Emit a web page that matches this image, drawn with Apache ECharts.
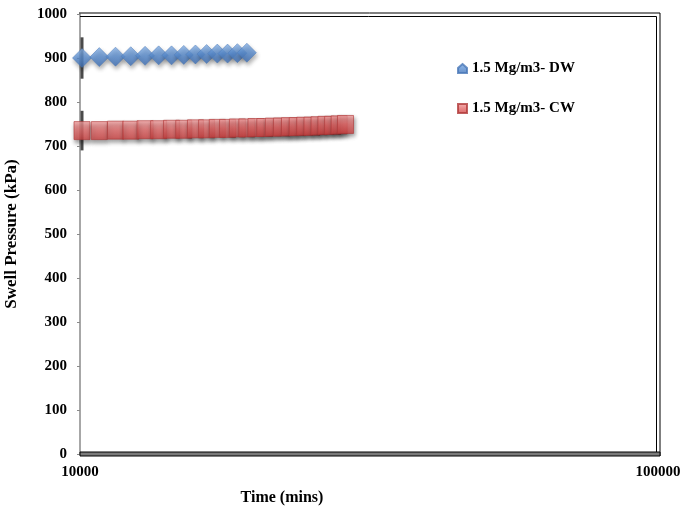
<!DOCTYPE html>
<html>
<head>
<meta charset="utf-8">
<script src="https://cdn.jsdelivr.net/npm/echarts@6/dist/echarts.min.js"></script>
<style>
  html, body { margin: 0; padding: 0; background: #fff; }
  #chart { width: 684px; height: 510px; }
</style>
</head>
<body>
<div id="chart"></div>
<script>
// Swell pressure readings over time (log time axis)
const dwName = '1.5 Mg/m3- DW';
const cwName = '1.5 Mg/m3- CW';

const dwTime = [10080, 10800, 11520, 12240, 12960, 13680, 14400, 15120, 15840, 16560, 17280, 18000, 18720, 19440];
const dwPressure = [900, 902, 903, 904, 905, 906, 906, 907, 908, 909, 910, 910, 911, 912];

const cwTime = [10080, 10800, 11520, 12240, 12960, 13680, 14400, 15120, 15840, 16560, 17280, 18000, 18720, 19440,
                20160, 20880, 21600, 22320, 23040, 23760, 24480, 25200, 25920, 26640, 27360, 28080, 28800];
const cwPressure = [735, 735, 736, 736, 737, 737, 738, 738, 739, 739, 740, 740, 741, 741,
                    742, 742, 743, 743, 744, 744, 745, 745, 746, 747, 747, 748, 749];

// error bars on the first reading of each series
const dwError = 47;
const cwError = 45;

const xTicks = [10000, 100000];
const yMin = 0, yMax = 1000, yStep = 100;

const serif = "'Liberation Serif', 'Times New Roman', serif";

const pair = (xs, ys) => xs.map((x, i) => [x, ys[i]]);

const errBar = (t, v, e) => ({
  type: 'custom',
  silent: true,
  z: 1,
  data: [[t, v - e, v + e]],
  renderItem: (params, api) => {
    const lo = api.coord([api.value(0), api.value(1)]);
    const hi = api.coord([api.value(0), api.value(2)]);
    return {
      type: 'line',
      shape: { x1: lo[0], y1: lo[1], x2: hi[0], y2: hi[1] },
      style: { stroke: '#4a4a4a', lineWidth: 3 }
    };
  }
});

const chart = echarts.init(document.getElementById('chart'), null, { renderer: 'canvas' });

chart.setOption({
  backgroundColor: '#fff',
  animation: false,
  grid: { left: 80, right: 26, top: 14, bottom: 56, show: false, containLabel: false, outerBoundsMode: 'none' },
  legend: {
    orient: 'vertical',
    left: 452,
    top: 56,
    itemGap: 25,
    itemWidth: 9,
    itemHeight: 9,
    textStyle: { fontFamily: serif, fontWeight: 'bold', fontSize: 15, color: '#000' },
    data: [
      { name: dwName, icon: 'path://M5,0 L10,4.5 L10,10 L0,10 L0,4.5 Z' },
      { name: cwName, icon: 'rect' }
    ]
  },
  xAxis: {
    type: 'log',
    logBase: 10,
    min: xTicks[0],
    max: xTicks[xTicks.length - 1],
    name: 'Time (mins)',
    nameLocation: 'middle',
    nameGap: 36,
    nameTextStyle: { fontFamily: serif, fontWeight: 'bold', fontSize: 16, color: '#000', padding: [0, 174, 0, 0] },
    axisLine: { show: false },
    axisTick: { show: false },
    splitLine: { show: false },
    minorTick: { show: false },
    axisLabel: {
      margin: 11,
      fontFamily: serif, fontWeight: 'bold', fontSize: 15, color: '#000',
      formatter: v => String(Math.round(v))
    }
  },
  yAxis: {
    type: 'value',
    min: yMin,
    max: yMax,
    interval: yStep,
    name: 'Swell Pressure (kPa)',
    nameLocation: 'middle',
    nameGap: 60,
    nameTextStyle: { fontFamily: serif, fontWeight: 'bold', fontSize: 17, color: '#000' },
    axisLine: { show: true, lineStyle: { color: '#8a8a8a', width: 1.5 } },
    axisTick: { show: true, length: 3, lineStyle: { color: '#8a8a8a' } },
    splitLine: { show: false },
    axisLabel: {
      margin: 13, fontFamily: serif, fontWeight: 'bold', fontSize: 15, color: '#000',
      formatter: v => String(v)
    }
  },
  graphic: [
    // double frame on top and right, heavy base line
    { type: 'line', shape: { x1: 79, y1: 13, x2: 660, y2: 13 }, style: { stroke: '#000', lineWidth: 1 }, z: 10 },
    { type: 'line', shape: { x1: 80, y1: 16.5, x2: 656.5, y2: 16.5 }, style: { stroke: '#000', lineWidth: 1 }, z: 10 },
    { type: 'line', shape: { x1: 660, y1: 13, x2: 660, y2: 456 }, style: { stroke: '#000', lineWidth: 1 }, z: 10 },
    { type: 'line', shape: { x1: 656.5, y1: 16.5, x2: 656.5, y2: 452 }, style: { stroke: '#000', lineWidth: 1 }, z: 10 },
    { type: 'rect', shape: { x: 80, y: 452, width: 580, height: 4 }, style: { fill: '#7a7a7a', stroke: '#000', lineWidth: 1 }, z: 10 }
  ],
  series: [
    errBar(dwTime[0], dwPressure[0], dwError),
    errBar(cwTime[0], cwPressure[0], cwError),
    {
      name: cwName,
      type: 'scatter',
      z: 3,
      symbol: 'rect',
      symbolSize: [16, 18],
      data: pair(cwTime, cwPressure),
      itemStyle: {
        color: new echarts.graphic.LinearGradient(0, 0, 0, 1, [
          { offset: 0, color: '#f4a3a3' },
          { offset: 0.5, color: '#e36a6a' },
          { offset: 1, color: '#cf4444' }
        ]),
        borderColor: '#b03a3a',
        borderWidth: 0.8,
        shadowColor: 'rgba(0,0,0,0.45)',
        shadowBlur: 4,
        shadowOffsetX: 1,
        shadowOffsetY: 3
      }
    },
    {
      name: dwName,
      type: 'scatter',
      z: 3,
      symbol: 'diamond',
      symbolSize: [19, 19],
      data: pair(dwTime, dwPressure),
      itemStyle: {
        color: new echarts.graphic.LinearGradient(0, 0, 0, 1, [
          { offset: 0, color: '#86b0e4' },
          { offset: 0.5, color: '#5b8fd2' },
          { offset: 1, color: '#3f70b6' }
        ]),
        borderColor: '#4a78b8',
        borderWidth: 0.6,
        shadowColor: 'rgba(0,0,0,0.4)',
        shadowBlur: 4,
        shadowOffsetX: 1,
        shadowOffsetY: 3
      }
    }
  ]
});
</script>
</body>
</html>
